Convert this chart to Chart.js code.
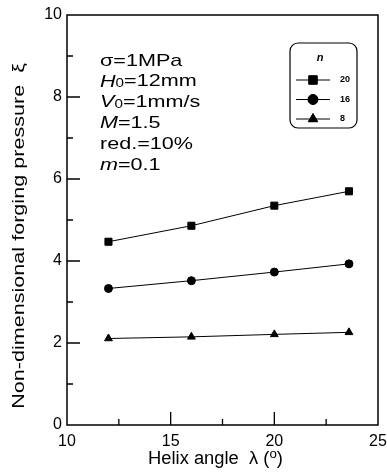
<!DOCTYPE html>
<html>
<head>
<meta charset="utf-8">
<script src="https://cdn.jsdelivr.net/npm/chart.js@4.4.0/dist/chart.umd.min.js"></script>
<style>
  html, body { margin: 0; padding: 0; background: #fff; }
  #wrap { width: 387px; height: 472px; }
</style>
</head>
<body>
<div id="wrap"><canvas id="forgingChart" width="387" height="472"></canvas></div>
<script>
// Helix angle (deg) and non-dimensional forging pressure for each n
const helixAngles = [12, 16, 20, 23.6];
const xiN20 = [4.47, 4.86, 5.35, 5.70];
const xiN16 = [3.33, 3.52, 3.73, 3.93];
const xiN8 = [2.11, 2.15, 2.21, 2.26];
const seriesNames = ['20', '16', '8'];
const xTickValues = [10, 15, 20, 25];
const yTickValues = [0, 2, 4, 6, 8, 10];
const yTitle = 'Non-dimensional forging pressure  ξ';

const FONT = '"Liberation Sans", Arial, sans-serif';

function pts(ys) {
  return helixAngles.map((x, i) => ({ x: x, y: ys[i] }));
}

// the scanned figure has its text a bit wide, so squeeze it out horizontally
const STRETCH = 1.27;

// draw a run of [text, style] pieces; style '' normal, 'i' italic, 's' subscript, 'u' superscript
function drawRuns(ctx, runs, x, y, size, stretch) {
  runs.forEach(([t, st]) => {
    let dy = 0;
    if (st === 'i') ctx.font = 'italic ' + size + 'px ' + FONT;
    else if (st === 's') { ctx.font = Math.round(size * 0.7) + 'px ' + FONT; dy = 2; }
    else if (st === 'u') { ctx.font = Math.round(size * 0.7) + 'px ' + FONT; dy = -5; }
    else ctx.font = size + 'px ' + FONT;
    ctx.save();
    ctx.translate(x, y + dy);
    ctx.scale(stretch, 1);
    ctx.fillText(t, 0, 0);
    ctx.restore();
    x += ctx.measureText(t).width * stretch;
  });
}

// inward ticks, frame, axis titles, condition text and the boxed legend
const decorations = {
  id: 'decorations',
  afterDraw(chart) {
    const ctx = chart.ctx;
    const a = chart.chartArea;
    const xs = chart.scales.x, ys = chart.scales.y;
    ctx.save();
    ctx.strokeStyle = '#000';
    ctx.fillStyle = '#000';
    ctx.lineWidth = 1.5;
    ctx.strokeRect(a.left, a.top, a.right - a.left, a.bottom - a.top);

    ctx.lineWidth = 1.3;
    ctx.beginPath();
    for (let v = 1; v < 10; v++) {
      const y = ys.getPixelForValue(v);
      const len = v % 2 === 0 ? 13 : 6;
      ctx.moveTo(a.left, y);
      ctx.lineTo(a.left + len, y);
    }
    for (let v = 12.5; v < 25; v += 2.5) {
      const x = xs.getPixelForValue(v);
      const len = v % 5 === 0 ? 13 : 6;
      ctx.moveTo(x, a.bottom);
      ctx.lineTo(x, a.bottom - len);
    }
    ctx.stroke();

    // y axis title
    ctx.save();
    ctx.translate(19, 236);
    ctx.rotate(-Math.PI / 2);
    ctx.scale(STRETCH, 1);
    ctx.font = '17px ' + FONT;
    ctx.textAlign = 'center';
    ctx.textBaseline = 'middle';
    ctx.fillText(yTitle, 0, 0);
    ctx.restore();

    ctx.textBaseline = 'middle';
    ctx.textAlign = 'left';

    // x axis title
    drawRuns(ctx, [['Helix angle  λ (', ''], ['o', 'u'], [')', '']], 148, 459, 18, 1.02);

    // test conditions
    const lines = [
      [['σ=1MPa', '']],
      [['H', 'i'], ['0', 's'], ['=12mm', '']],
      [['V', 'i'], ['0', 's'], ['=1mm/s', '']],
      [['M', 'i'], ['=1.5', '']],
      [['red.=10%', '']],
      [['m', 'i'], ['=0.1', '']]
    ];
    lines.forEach((runs, i) => {
      drawRuns(ctx, runs, 100, 61 + i * 20.8, 17, STRETCH);
    });

    // legend box
    const bx = 290, by = 43, bw = 67, bh = 85, r = 8;
    ctx.lineWidth = 1.2;
    ctx.beginPath();
    ctx.roundRect(bx, by, bw, bh, r);
    ctx.stroke();
    ctx.font = 'italic bold 11px ' + FONT;
    ctx.textAlign = 'center';
    ctx.fillText('n', 320, 58);
    ctx.textAlign = 'left';
    ctx.font = 'bold 9px ' + FONT;
    chart.data.datasets.forEach((ds, i) => {
      const y = 80 + i * 19.5;
      ctx.lineWidth = 1;
      ctx.beginPath();
      ctx.moveTo(296, y);
      ctx.lineTo(330, y);
      ctx.stroke();
      Chart.helpers.drawPoint(ctx, {
        pointStyle: ds.pointStyle,
        radius: ds.pointRadius + 1,
        rotation: 0,
        borderWidth: 1
      }, 313, y);
      ctx.fill();
      ctx.fillText(ds.label, 340, y);
    });
    ctx.restore();
  }
};

const ctx = document.getElementById('forgingChart').getContext('2d');
new Chart(ctx, {
  type: 'line',
  data: {
    datasets: [
      { label: seriesNames[0], data: pts(xiN20), pointStyle: 'rect', pointRadius: 5 },
      { label: seriesNames[1], data: pts(xiN16), pointStyle: 'circle', pointRadius: 4 },
      { label: seriesNames[2], data: pts(xiN8), pointStyle: 'triangle', pointRadius: 4.5 }
    ].map(d => Object.assign(d, {
      borderColor: '#000',
      backgroundColor: '#000',
      pointBackgroundColor: '#000',
      pointBorderColor: '#000',
      borderWidth: 1,
      tension: 0
    }))
  },
  options: {
    responsive: false,
    animation: false,
    layout: { padding: { top: 15, right: 9, left: 0, bottom: 0 } },
    plugins: { legend: { display: false }, tooltip: { enabled: false } },
    scales: {
      x: {
        type: 'linear',
        min: 10, max: 25,
        afterBuildTicks: s => { s.ticks = xTickValues.map(v => ({ value: v })); },
        afterFit: s => { s.height = 47; s.paddingLeft = 0; s.paddingRight = 0; },
        grid: { display: false, drawTicks: false },
        border: { display: false },
        ticks: { color: '#000', font: { family: FONT, size: 16 }, padding: 7 },
        title: { display: false }
      },
      y: {
        min: 0, max: 10,
        afterBuildTicks: s => { s.ticks = yTickValues.map(v => ({ value: v })); },
        afterFit: s => { s.width = 67; s.paddingTop = 0; s.paddingBottom = 0; },
        grid: { display: false, drawTicks: false },
        border: { display: false },
        ticks: { color: '#000', font: { family: FONT, size: 16 }, padding: 5 },
        title: { display: false }
      }
    }
  },
  plugins: [decorations]
});
</script>
</body>
</html>
